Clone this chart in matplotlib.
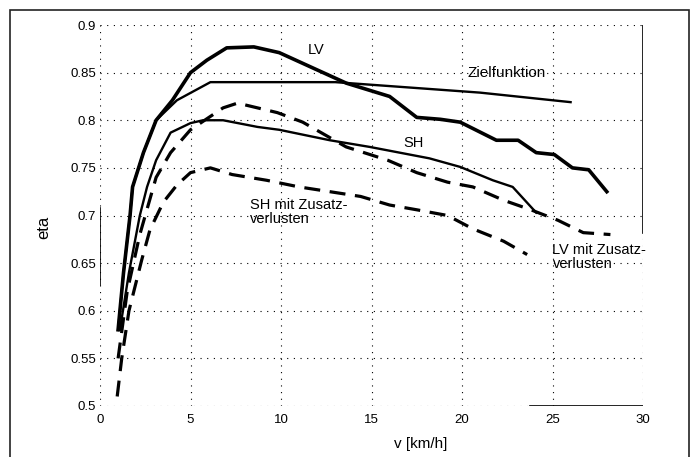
import matplotlib
matplotlib.use('Agg')
import matplotlib.pyplot as plt
from matplotlib.patches import Rectangle

plt.rcParams['font.family'] = ['Liberation Sans', 'DejaVu Sans']

# curves: v [km/h] vs eta
lv_v = [1.0, 1.3, 1.66, 1.8, 2.4, 3.1, 4.0, 5.0, 5.9, 7.0, 8.5, 9.9, 13.6, 16.0, 17.5, 18.8, 19.9, 21.9, 23.1, 24.1, 25.1, 26.1, 27.0, 28.0]
lv_eta = [0.58, 0.64, 0.70, 0.73, 0.766, 0.80, 0.821, 0.85, 0.863, 0.876, 0.877, 0.871, 0.839, 0.825, 0.803, 0.801, 0.798, 0.779, 0.779, 0.766, 0.764, 0.75, 0.748, 0.725]

ziel_v = [1.0, 1.3, 1.66, 1.8, 2.4, 3.1, 4.25, 6.1, 13.0, 21.0, 26.0]
ziel_eta = [0.58, 0.64, 0.70, 0.73, 0.766, 0.80, 0.821, 0.84, 0.84, 0.829, 0.819]

sh_v = [1.1, 1.6, 2.2, 2.6, 3.1, 3.9, 5.0, 5.7, 6.8, 8.7, 9.9, 12.7, 14.9, 18.2, 19.9, 21.7, 22.8, 24.1]
sh_eta = [0.58, 0.64, 0.70, 0.73, 0.758, 0.787, 0.797, 0.80, 0.80, 0.793, 0.79, 0.779, 0.772, 0.76, 0.751, 0.737, 0.73, 0.703]

lvz_v = [1.0, 1.5, 2.2, 3.1, 3.9, 5.0, 6.8, 7.6, 9.8, 11.2, 13.6, 15.9, 17.5, 19.2, 20.6, 22.3, 23.8, 25.3, 26.7, 28.2]
lvz_eta = [0.55, 0.62, 0.68, 0.74, 0.766, 0.79, 0.813, 0.818, 0.808, 0.798, 0.772, 0.758, 0.745, 0.735, 0.73, 0.716, 0.706, 0.695, 0.682, 0.68]

shz_v = [0.95, 1.2, 1.6, 2.3, 2.76, 3.5, 4.25, 5.0, 6.1, 7.3, 9.2, 11.0, 12.7, 14.4, 16.0, 17.5, 19.2, 20.6, 22.3, 23.6]
shz_eta = [0.51, 0.55, 0.60, 0.653, 0.685, 0.714, 0.732, 0.745, 0.75, 0.743, 0.737, 0.73, 0.725, 0.72, 0.711, 0.706, 0.70, 0.686, 0.673, 0.659]

xticks = [0, 5, 10, 15, 20, 25, 30]
yticks = [0.5, 0.55, 0.6, 0.65, 0.7, 0.75, 0.8, 0.85, 0.9]
ylabels = ['0.5', '0.55', '0.6', '0.65', '0.7', '0.75', '0.8', '0.85', '0.9']

fig = plt.figure(figsize=(6.96, 4.57), dpi=100)
ax = fig.add_axes([100/696, 1 - 406/457, 543/696, 381/457])

# frame round the whole picture (bottom edge is cut off in the scan)
fig.patches.append(Rectangle((10/696, -0.1), 679/696, 1.1 - 10/457, transform=fig.transFigure,
                             fill=False, ec='#222222', lw=1.2))

ax.plot(lv_v, lv_eta, color='k', lw=2.6)
ax.plot(ziel_v, ziel_eta, color='k', lw=1.7)
ax.plot(sh_v, sh_eta, color='k', lw=1.7)
ax.plot(lvz_v, lvz_eta, color='k', lw=2.3, dashes=(5, 3))
ax.plot(shz_v, shz_eta, color='k', lw=2.3, dashes=(5, 3))

ax.text(11.5, 0.874, 'LV', fontsize=10.5, va='center')
ax.text(20.3, 0.85, 'Zielfunktion', fontsize=11, va='center')
ax.text(16.75, 0.776, 'SH', fontsize=10.5, va='center')
ax.text(8.3, 0.704, 'SH mit Zusatz-\nverlusten', fontsize=10.5, va='center', linespacing=1.0)
ax.text(25.0, 0.656, 'LV mit Zusatz-\nverlusten', fontsize=10.5, va='center', linespacing=1.0)

ax.set_xlim(0, 30)
ax.set_ylim(0.5, 0.9)
ax.set_xticks(xticks)
ax.set_yticks(yticks)
ax.set_yticklabels(ylabels)
ax.tick_params(length=0, labelsize=9.5)
ax.tick_params(axis='x', pad=6)
ax.tick_params(axis='y', pad=3)
ax.grid(True, ls=(0, (1, 5)), color='k', lw=0.8)

for s in ax.spines.values():
    s.set_visible(False)
# fragments of the axes box that survived in the scan
ax.axvline(30, 0.454, 1.0, color='k', lw=1.2)
ax.axvline(0, 0.318, 0.52, color='k', lw=1.2)
ax.axhline(0.5, 0.792, 1.0, color='k', lw=1.2)

ax.set_xlabel('v [km/h]', fontsize=11)
ax.xaxis.set_label_coords(0.591, -0.082)
ax.set_ylabel('eta', fontsize=12)
ax.yaxis.set_label_coords(-0.09, 0.47)

plt.savefig('out.png', dpi=100)
